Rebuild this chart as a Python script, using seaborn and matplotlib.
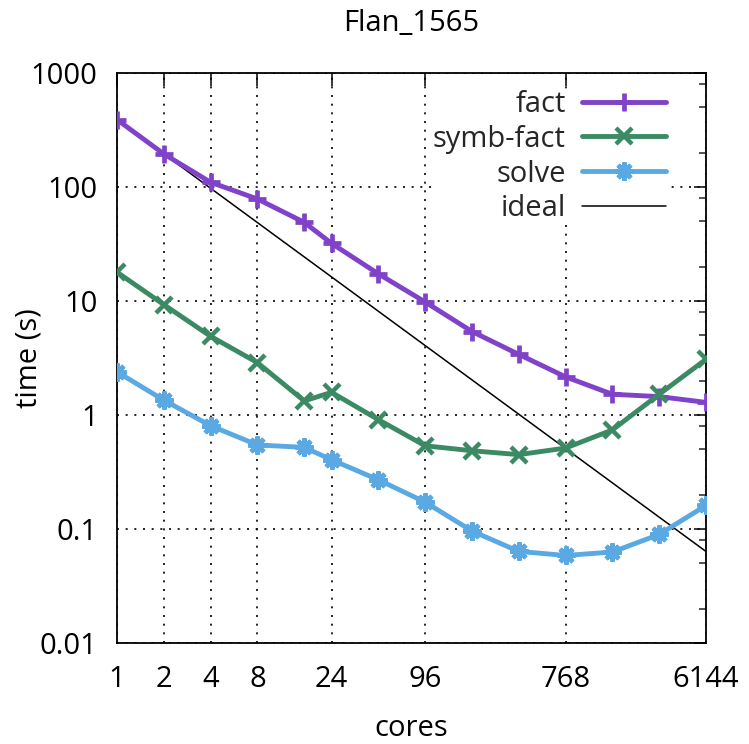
import numpy as np
import pandas as pd
import matplotlib
matplotlib.use("Agg")
import matplotlib.pyplot as plt
import matplotlib.ticker as mticker
import seaborn as sns

# ---- data ----
cores = [1, 2, 4, 8, 16, 24, 48, 96, 192, 384, 768, 1536, 3072, 6144]
fact = [390, 195, 110, 78.5, 49, 32, 17.3, 9.8, 5.4, 3.4, 2.16, 1.52, 1.45, 1.29]
symb_fact = [17.9, 9.3, 4.9, 2.88, 1.33, 1.58, 0.91, 0.537, 0.486, 0.449, 0.513, 0.74, 1.52, 3.08]
solve = [2.39, 1.35, 0.805, 0.546, 0.52, 0.405, 0.27, 0.172, 0.096, 0.0636, 0.0586, 0.0628, 0.0896, 0.161]
ideal_x = [1, 6144]
ideal_y = [390, 0.0635]
xtick_vals = [1, 2, 4, 8, 24, 96, 768, 6144]
xtick_labels = ["1", "2", "4", "8", "24", "96", "768", "6144"]
ytick_vals = [0.01, 0.1, 1, 10, 100, 1000]
ytick_labels = ["0.01", "0.1", "1", "10", "100", "1000"]

sns.set_theme(style="white")
plt.rcParams['font.family'] = ['Open Sans', 'DejaVu Sans']
FS = 21

df = pd.DataFrame({"cores": cores, "fact": fact, "symb-fact": symb_fact, "solve": solve})
long = df.melt(id_vars="cores", var_name="series", value_name="time")

fig = plt.figure(figsize=(7.49, 7.44), dpi=100)
ax = fig.add_axes([117/749, 1-643/744, (706-117)/749, (643-73)/744])

styles = {
    "fact": dict(color="#8042c8", marker="+", ms=13, mew=3.4),
    "symb-fact": dict(color="#3b8a63", marker="x", ms=11, mew=3.2),
    "solve": dict(color="#5aa9e2", marker=(8, 2, 0), ms=13, mew=3.2),
}
for name in ["fact", "symb-fact", "solve"]:
    sub = long[long["series"] == name]
    st = styles[name]
    sns.lineplot(data=sub, x="cores", y="time", ax=ax, color=st["color"], lw=3.5,
                 marker=st["marker"], markersize=st["ms"], markeredgewidth=st["mew"],
                 markeredgecolor=st["color"], label=name, zorder=3)
sns.lineplot(x=ideal_x, y=ideal_y, ax=ax, color="black", lw=1.1, label="ideal", zorder=2)

ax.set_xscale("log", base=2)
ax.set_yscale("log")
ax.set_xlim(1, 6144)
ax.set_ylim(0.01, 1000)

ax.set_xticks(xtick_vals)
ax.set_xticklabels(xtick_labels)
ax.xaxis.set_minor_locator(mticker.NullLocator())
ax.set_yticks(ytick_vals)
ax.set_yticklabels(ytick_labels)
ax.yaxis.set_minor_locator(mticker.LogLocator(base=10, subs=[2, 5, 8]))
ax.yaxis.set_minor_formatter(mticker.NullFormatter())

ax.tick_params(axis="both", which="major", direction="in", length=9, width=1.1,
               top=True, right=True, labelsize=FS, colors="black", pad=14)
ax.tick_params(axis="x", which="major", pad=16)
ax.tick_params(axis="both", which="minor", direction="in", length=5, width=1.1,
               top=True, right=True)
for s in ax.spines.values():
    s.set_color("black")
    s.set_linewidth(1.3)

ax.grid(True, which="major", color="black", linestyle=(0, (1.2, 4)), linewidth=1.2)

ax.set_title("Flan_1565", fontsize=FS, pad=30, color="black")
ax.set_xlabel("cores", fontsize=FS, color="black")
ax.set_ylabel("time (s)", fontsize=FS, color="black")
ax.xaxis.set_label_coords(0.5, -0.124)
ax.yaxis.set_label_coords(-0.124, 0.5)

leg = ax.legend(loc="upper right", bbox_to_anchor=(0.9576, 0.996), markerfirst=False,
                fontsize=FS, frameon=True, framealpha=1, facecolor="white",
                edgecolor="none", fancybox=False, handlelength=2.9, handletextpad=0.56,
                labelspacing=0.2, borderpad=0.0)
leg.set_zorder(2.4)

fig.savefig("out.png", dpi=100)
